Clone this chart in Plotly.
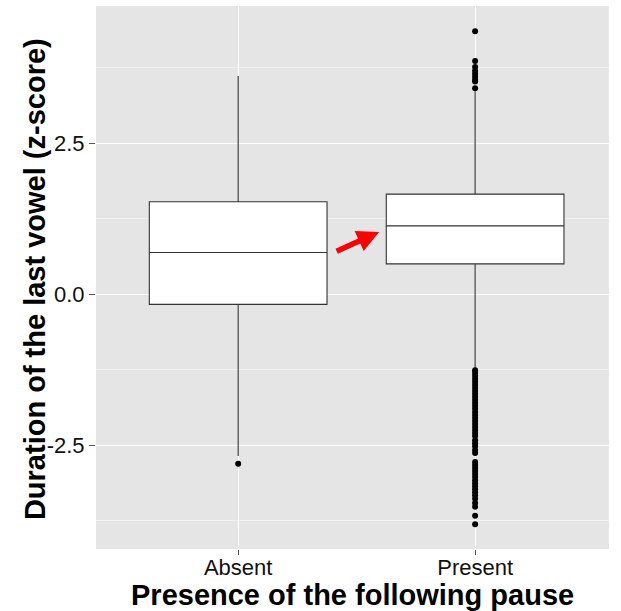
import plotly.graph_objects as go

categories = ["Absent", "Present"]
q1 = [-0.17, 0.50]
median = [0.69, 1.13]
q3 = [1.53, 1.655]
lower_fence = [-2.68, -1.23]
upper_fence = [3.61, 3.36]

absent_outliers = [-2.81]
present_outliers = [4.35, 3.86, 3.76, 3.70, 3.65, 3.60, 3.55, 3.52, 3.41,
                    -1.26, -1.30, -1.35, -1.40, -1.45, -1.50, -1.55, -1.60, -1.65,
                    -1.70, -1.75, -1.80, -1.85, -1.90, -1.95, -2.00, -2.05, -2.10,
                    -2.15, -2.20, -2.25, -2.30, -2.35, -2.42, -2.47, -2.52, -2.58,
                    -2.63, -2.78, -2.83, -2.88, -2.93, -2.98, -3.03, -3.08, -3.13,
                    -3.18, -3.23, -3.28, -3.33, -3.39, -3.46, -3.52, -3.67, -3.81]

y_ticks = [-2.5, 0.0, 2.5]
y_tick_labels = ["-2.5", "0.0", "2.5"]

x_title = "Presence of the following pause"
y_title = "Duration of the last vowel (z-score)"

fig = go.Figure()
fig.add_trace(go.Box(
    x=categories, q1=q1, median=median, q3=q3,
    lowerfence=lower_fence, upperfence=upper_fence,
    boxpoints=False, width=0.75, whiskerwidth=0,
    fillcolor="white", line=dict(color="#333333", width=1.1),
    showlegend=False, hoverinfo="skip",
))
# thicker median lines
for i, cat in enumerate(categories):
    fig.add_trace(go.Scatter(
        x=[i - 0.375, i + 0.375], y=[median[i], median[i]], mode="lines",
        line=dict(color="#333333", width=2.4), showlegend=False, hoverinfo="skip",
    ))
fig.add_trace(go.Scatter(
    x=["Absent"] * len(absent_outliers) + ["Present"] * len(present_outliers),
    y=absent_outliers + present_outliers,
    mode="markers", marker=dict(color="black", size=6),
    showlegend=False, hoverinfo="skip",
))

fig.add_annotation(
    x=0.595, y=1.03, xref="x", yref="y", text="", showarrow=True,
    ax=-44, ay=20, arrowcolor="#FF0000", arrowwidth=5.5, arrowhead=2, arrowsize=0.8,
    standoff=0,
)
fig.add_annotation(
    x=0.5, y=-0.085, xref="paper", yref="paper", text="<b>" + x_title + "</b>",
    showarrow=False, xanchor="center", yanchor="middle",
    font=dict(size=29, color="black"),
)
fig.add_annotation(
    x=-0.119, y=0.497, xref="paper", yref="paper", text="<b>" + y_title + "</b>",
    showarrow=False, xanchor="center", yanchor="middle", textangle=-90,
    font=dict(size=29, color="black"),
)

fig.update_layout(
    width=621, height=611,
    margin=dict(l=96, r=12, t=6, b=62),
    paper_bgcolor="white", plot_bgcolor="#E5E5E5",
    font=dict(family="Liberation Sans, Arial, sans-serif", color="black"),
    xaxis=dict(
        type="category", categoryorder="array", categoryarray=categories,
        range=[-0.6, 1.565], automargin=False,
        showgrid=True, gridcolor="white", gridwidth=1.2,
        ticks="outside", ticklen=5, tickcolor="#555555", ticklabelstandoff=-6,
        tickfont=dict(size=22, color="#111111"),
        zeroline=False, showline=False,
    ),
    yaxis=dict(
        range=[-4.22, 4.77], automargin=False,
        tickvals=y_ticks, ticktext=y_tick_labels,
        showgrid=True, gridcolor="white", gridwidth=1.2,
        minor=dict(tickvals=[-3.75, -1.25, 1.25, 3.75], showgrid=True, gridcolor="#F2F2F2", gridwidth=0.6),
        ticks="outside", ticklen=6, tickcolor="#555555",
        tickfont=dict(size=22, color="#111111"),
        zeroline=False, showline=False,
    ),
)

fig.write_html("out.html")
